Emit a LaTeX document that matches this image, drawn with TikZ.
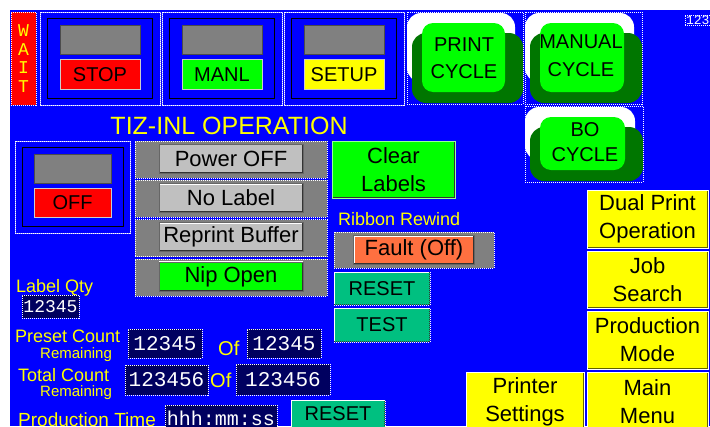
\documentclass[tikz,border=0pt]{standalone}
\usepackage{fontspec}
\setmainfont{Liberation Sans}
\setmonofont{Liberation Mono}
\usetikzlibrary{positioning}
\definecolor{hmiblue}{RGB}{0,0,255}
\definecolor{rimblue}{RGB}{150,150,255}
\definecolor{lampgrey}{RGB}{128,128,128}
\definecolor{keygrey}{RGB}{192,192,192}
\definecolor{stopred}{RGB}{255,0,0}
\definecolor{rungreen}{RGB}{0,255,0}
\definecolor{cycshade}{RGB}{0,118,0}
\definecolor{txtyellow}{RGB}{255,255,0}
\definecolor{resetteal}{RGB}{0,192,128}
\definecolor{faultorange}{RGB}{255,112,64}
\definecolor{readoutbg}{RGB}{0,0,96}
\definecolor{bevel}{RGB}{96,96,0}

\begin{document}
\begin{tikzpicture}[
    x=1pt, y=-1pt,
    cell/.style     = {anchor=north west, inner sep=0pt, outer sep=0pt},
    sz/.style 2 args= {minimum width=#1, minimum height=#2},
    fs/.style 2 args= {font=\fontsize{#1}{#2}\selectfont},
    dotbox/.style   = {draw=white, dash pattern=on 1pt off 1pt, line width=0.7pt},
    raised/.style   = {path picture={
        \draw[white, line width=2.5pt] (path picture bounding box.south west)
            |- (path picture bounding box.north east);
        \draw[#1, line width=2.5pt] (path picture bounding box.south west)
            -| (path picture bounding box.north east);}},
    raised/.default = {black!80},
    panel/.style    = {cell, draw=rimblue, line width=1pt},
    panelin/.style  = {inner sep=0pt, outer sep=0pt, draw=black, line width=1pt},
    lamp/.style     = {cell, sz={80}{29}, fill=lampgrey, draw=black!70, line width=0.8pt},
    lampbtn/.style  = {cell, sz={80}{30}, fill=#1, draw=white!80!black, line width=0.8pt, fs={20}{24}},
    strip/.style    = {cell, fill=lampgrey, dotbox},
    pushkey/.style  = {inner sep=0pt, outer sep=0pt, fill=#1, draw=black!60, line width=0.6pt,
                       raised, fs={22}{26}},
    tealbtn/.style  = {cell, fill=resetteal, dotbox, raised, fs={20}{24}},
    menubtn/.style  = {cell, fill=txtyellow, draw=white, line width=1pt, raised=bevel,
                       align=center, fs={22}{28}},
    lbl/.style      = {anchor=base west, inner sep=0pt, text=txtyellow, fs={#1}{#1}},
    readout/.style  = {cell, fill=readoutbg, dotbox, text=white, font=\ttfamily\fontsize{#1}{#1}\selectfont},
    pics/cyclebtn/.style n args={2}{code={
        \fill[white, rounded corners=14pt] (0,1) rectangle (#1-8,#2-22);
        \fill[cycshade, rounded corners=14pt] (5,21) rectangle (#1,#2-1);
        \fill[rungreen, rounded corners=11pt] (15,11) rectangle (#1-18,#2-12);
        \draw[dotbox] (0,0) rectangle (#1,#2);
    }}
  ]
    \useasboundingbox (0,0) rectangle (710,426);
    \clip (0,0) rectangle (710,426);
    \fill[white] (0,0) rectangle (710,426);
    \fill[hmiblue] (10,10) rectangle (710,426);

    % status flag
    \node[cell, sz={25}{93}, fill=stopred, dotbox, align=center, text=txtyellow,
          font=\ttfamily\fontsize{18}{18.5}\selectfont] (wait) at (11,12) {W\\A\\I\\T};

    % mode selector panels
    \foreach \nm/\lbl/\col/\px in {stop/STOP/stopred/40, manl/MANL/rungreen/162, setup/SETUP/txtyellow/284} {
      \node[panel, sz={120}{93}] (\nm) at (\px,12) {};
      \node[panelin, sz={105}{80}] (\nm-in) at (\nm.center) {};
      \node[lamp, below=7pt of \nm-in.north] (\nm-lamp) {};
      \node[lampbtn=\col, below=5pt of \nm-lamp] (\nm-btn) {\lbl};
      \draw[dotbox] (\nm.north west) rectangle (\nm.south east);
    }

    % cycle buttons
    \pic at (407,12)  {cyclebtn={116}{92}};
    \pic at (525,12)  {cyclebtn={117}{92}};
    \pic at (525,106) {cyclebtn={118}{76}};
    \node[fs={20}{27}, align=center] (printcyc) at (464,58)  {PRINT\\CYCLE};
    \node[fs={20}{28}, align=center] (mancyc)   at (581,56)  {MANUAL\\CYCLE};
    \node[fs={20}{25}, align=center] (bocyc)    at (585,142) {BO\\CYCLE};

    \node[cell, dotbox, inner sep=1pt, text=white, font=\ttfamily\fontsize{13}{13}\selectfont]
      (counter) at (685,15) {12345};

    \node[anchor=base, inner sep=0pt, text=txtyellow, fs={25}{25}] (title) at (229,134) {TIZ-INL OPERATION};

    % power panel
    \node[panel, sz={115}{92}] (off) at (15,141) {};
    \node[panelin, sz={101}{79}] (off-in) at (off.center) {};
    \node[lamp, sz={77}{29}, below=7pt of off-in.north] (off-lamp) {};
    \node[lampbtn=stopred, sz={77}{29}, below=5pt of off-lamp] (off-btn) {OFF};
    \draw[dotbox] (off.north west) rectangle (off.south east);

    % fault indicators
    \foreach \lbl/\col [count=\i] in {Power OFF/keygrey, No Label/keygrey, Reprint Buffer/keygrey, Nip Open/rungreen} {
      \node[strip, sz={192}{37}] (strip\i) at (135,{141+39.3*(\i-1)}) {};
      \node[pushkey=\col, sz={144}{29}] (key\i) at ([yshift=1pt]strip\i.center) {\lbl};
    }

    \node[cell, sz={123}{57}, fill=rungreen, draw=white!60!rungreen, line width=1pt, raised,
          align=center, fs={22}{28}] (clear) at (332,141) {Clear\\Labels};

    % ribbon rewind
    \node[lbl=18] (ribbonlbl) at (338,225) {Ribbon Rewind};
    \node[strip, sz={160}{36}] (ribbon) at (334,232) {};
    \node[pushkey=faultorange, sz={121}{29}] (fault) at (ribbon.center) {Fault (Off)};
    \node[tealbtn, sz={96}{33}] (rreset) at (334,272) {RESET};
    \node[tealbtn, sz={96}{34}, below=3pt of rreset] (rtest) {TEST};

    % counters
    \node[lbl=18] (qtylbl) at (16,292) {Label Qty};
    \node[readout=18, sz={57}{23}] (qty) at (22,295) {12345};

    \node[lbl=18] (presetlbl) at (15,342) {Preset Count};
    \node[lbl=15] (presetrem) at (40,358) {Remaining};
    \node[readout=21, sz={74}{29}] (presetval) at (128,329) {12345};
    \node[lbl=20] (presetof) at (218,355) {Of};
    \node[readout=21, sz={74}{29}] (presetmax) at (247,329) {12345};

    \node[lbl=18] (totallbl) at (18,381) {Total Count};
    \node[lbl=15] (totalrem) at (40,396) {Remaining};
    \node[readout=21, sz={83}{30}] (totalval) at (125,365) {123456};
    \node[lbl=20] (totalof) at (210,387) {Of};
    \node[readout=21, sz={94}{31}] (totalmax) at (236,364) {123456};

    \node[lbl=19] (timelbl) at (18,426) {Production Time};
    \node[readout=20, sz={112}{27}] (prodtime) at (165,405) {hhh:mm:ss};
    \node[tealbtn, sz={94}{28}] (treset) at (291,400) {RESET};

    % navigation
    \node[menubtn, sz={121}{58}] (dual) at (587,190) {Dual Print\\Operation};
    \node[menubtn, sz={121}{57}, below=3pt of dual] (job) {Job\\Search};
    \node[menubtn, sz={121}{58}, below=3pt of job] (prodmode) {Production\\Mode};
    \node[menubtn, sz={121}{60}, below=3pt of prodmode] (mainmenu) {Main\\Menu};
    \node[menubtn, sz={118}{60}, left=3pt of mainmenu] (printer) {Printer\\Settings};
  \end{tikzpicture}
\end{document}
